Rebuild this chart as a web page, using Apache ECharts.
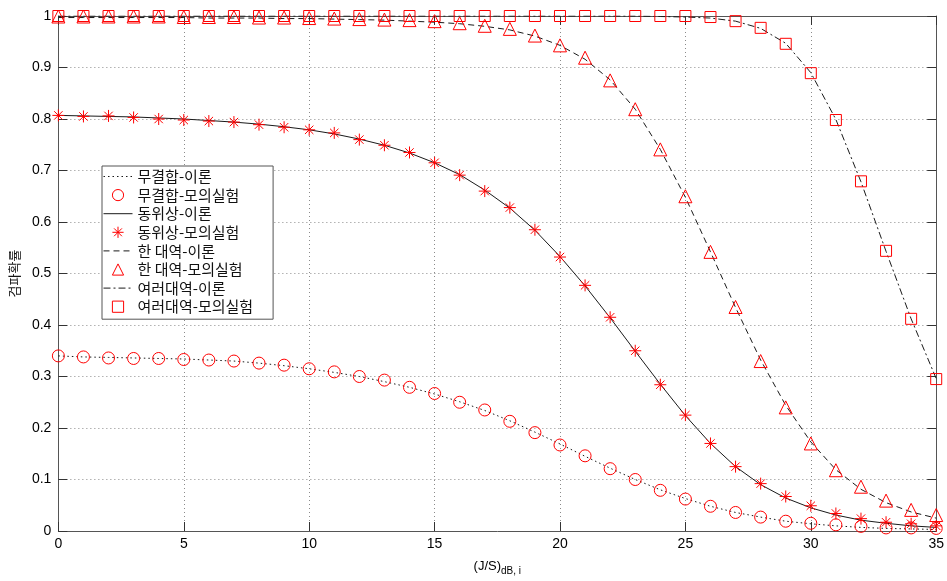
<!DOCTYPE html>
<html>
<head>
<meta charset="utf-8">
<script src="https://cdn.jsdelivr.net/npm/echarts@6/dist/echarts.min.js"></script>
<style>
  html, body { margin: 0; padding: 0; background: #fff; }
  #main { width: 947px; height: 581px; }
</style>
</head>
<body>
<div id="main"></div>
<script>
// x 축 (J/S) dB 값
var jsDb = [0, 1, 2, 3, 4, 5, 6, 7, 8, 9, 10, 11, 12, 13, 14, 15, 16, 17,
    18, 19, 20, 21, 22, 23, 24, 25, 26, 27, 28, 29, 30, 31, 32, 33, 34, 35];

// 무결합
var noCombTheory = [0.340, 0.338, 0.337, 0.336, 0.335, 0.334, 0.332, 0.330, 0.326, 0.321, 0.315, 0.308,
    0.300, 0.290, 0.279, 0.266, 0.251, 0.234, 0.214, 0.192, 0.169, 0.145, 0.122, 0.100,
    0.080, 0.063, 0.048, 0.036, 0.027, 0.019, 0.014, 0.010, 0.007, 0.005, 0.004, 0.003];
var noCombSim = [0.340, 0.338, 0.336, 0.335, 0.335, 0.333, 0.332, 0.330, 0.326, 0.322, 0.315, 0.309,
    0.300, 0.293, 0.279, 0.267, 0.250, 0.235, 0.213, 0.191, 0.167, 0.146, 0.121, 0.100,
    0.079, 0.062, 0.048, 0.036, 0.027, 0.019, 0.015, 0.012, 0.009, 0.006, 0.006, 0.005];

// 동위상
var inPhaseTheory = [0.807, 0.806, 0.805, 0.804, 0.802, 0.800, 0.797, 0.794, 0.790, 0.785, 0.779, 0.771,
    0.761, 0.749, 0.734, 0.715, 0.692, 0.662, 0.627, 0.584, 0.533, 0.476, 0.414, 0.349,
    0.285, 0.224, 0.170, 0.125, 0.090, 0.064, 0.045, 0.031, 0.021, 0.015, 0.010, 0.007];
var inPhaseSim = [0.807, 0.805, 0.806, 0.803, 0.800, 0.798, 0.796, 0.794, 0.789, 0.784, 0.779, 0.773,
    0.760, 0.749, 0.735, 0.715, 0.691, 0.660, 0.628, 0.585, 0.532, 0.477, 0.415, 0.350,
    0.284, 0.225, 0.170, 0.125, 0.092, 0.067, 0.049, 0.034, 0.024, 0.017, 0.014, 0.010];

// 한 대역
var oneBandTheory = [0.997, 0.997, 0.997, 0.997, 0.997, 0.997, 0.996, 0.996, 0.996, 0.995, 0.995, 0.994,
    0.993, 0.992, 0.990, 0.988, 0.985, 0.980, 0.973, 0.961, 0.943, 0.916, 0.876, 0.819,
    0.741, 0.648, 0.542, 0.434, 0.332, 0.244, 0.173, 0.119, 0.081, 0.055, 0.037, 0.025];
var oneBandSim = [0.999, 0.999, 0.999, 0.999, 0.999, 0.998, 0.998, 0.998, 0.997, 0.997, 0.996, 0.995,
    0.994, 0.993, 0.992, 0.990, 0.986, 0.981, 0.975, 0.962, 0.943, 0.919, 0.875, 0.819,
    0.741, 0.650, 0.542, 0.435, 0.330, 0.240, 0.170, 0.118, 0.086, 0.059, 0.041, 0.031];

// 여러대역
var multiBandTheory = [1.000, 1.000, 1.000, 1.000, 1.000, 1.000, 1.000, 1.000, 1.000, 1.000, 1.000, 1.000,
    1.000, 1.000, 1.000, 1.000, 1.000, 1.000, 1.000, 1.000, 1.000, 1.000, 1.000, 1.000,
    0.999, 0.998, 0.996, 0.990, 0.976, 0.947, 0.890, 0.799, 0.678, 0.543, 0.412, 0.296];
var multiBandSim = [1.000, 1.000, 1.000, 1.000, 1.000, 1.000, 1.000, 1.000, 1.000, 1.000, 1.000, 1.000,
    1.000, 1.000, 1.000, 1.000, 1.000, 1.000, 1.000, 1.000, 1.000, 1.000, 1.000, 1.000,
    1.000, 1.000, 0.998, 0.990, 0.977, 0.946, 0.889, 0.798, 0.679, 0.544, 0.412, 0.295];

function pairs(ys) {
    return jsDb.map(function (x, i) { return [x, ys[i]]; });
}

var starPath = 'path://M0,-10L0,10M-10,0L10,0M-7,-7L7,7M-7,7L7,-7';
var red = '#ff0000';
var lineColor = '#1a1a1a';

function theory(name, ys, type) {
    return {
        name: name, type: 'line', data: pairs(ys), symbol: 'none',
        lineStyle: { color: lineColor, width: 1, type: type },
        // 범례에 점이 안 나오도록
        itemStyle: { color: lineColor, opacity: 0 },
        silent: true, animation: false, z: 2
    };
}

function sim(name, ys, symbol, size) {
    return {
        name: name, type: 'line', data: pairs(ys), symbol: symbol, symbolSize: size,
        showAllSymbol: true,
        lineStyle: { width: 0, opacity: 0 },
        itemStyle: { color: 'rgba(255,0,0,0)', borderColor: red, borderWidth: 1 },
        silent: true, animation: false, z: 3
    };
}

var myChart = echarts.init(document.getElementById('main'));

var tickFont = { fontFamily: 'Liberation Sans', fontSize: 14, color: '#000' };

var option = {
    backgroundColor: '#fff',
    animation: false,
    grid: { left: 50, right: 8, top: 16, bottom: 41 },
    legend: {
        orient: 'vertical',
        left: 102, top: 166,
        padding: [3, 20, 5, 1],
        itemWidth: 29, itemHeight: 14, itemGap: 3.6,
        backgroundColor: '#fff',
        borderColor: '#555', borderWidth: 1,
        itemStyle: { borderWidth: 1 },
        lineStyle: { width: 1 },
        textStyle: { fontFamily: 'Noto Sans CJK KR', fontSize: 15, color: '#111', lineHeight: 14 },
        selectedMode: false,
        data: ['무결합-이론', '무결합-모의실험', '동위상-이론', '동위상-모의실험',
            '한 대역-이론', '한 대역-모의실험', '여러대역-이론', '여러대역-모의실험']
    },
    xAxis: [{
        type: 'value', min: 0, max: 35, interval: 5,
        name: '{m|(J/S)}{s|dB, i}',
        nameLocation: 'middle', nameGap: 26,
        nameTextStyle: {
            rich: {
                m: { fontFamily: 'Liberation Sans', fontSize: 13, color: '#000' },
                s: { fontFamily: 'Liberation Sans', fontSize: 10, color: '#000', padding: [9, 0, 0, 0] }
            }
        },
        axisLine: { show: true, lineStyle: { color: '#555', width: 1 } },
        axisTick: { show: true, inside: true, length: 9, lineStyle: { color: '#333' } },
        axisLabel: Object.assign({ margin: 6 }, tickFont),
        splitLine: { show: true, lineStyle: { color: '#8a8a8a', type: [1, 3] } }
    }, {
        type: 'value', min: 0, max: 35, interval: 5, position: 'top',
        axisLine: { show: true, onZero: false, lineStyle: { color: '#555', width: 1 } },
        axisTick: { show: true, inside: true, length: 9, lineStyle: { color: '#333' } },
        axisLabel: { show: false },
        splitLine: { show: false }
    }],
    yAxis: [{
        type: 'value', min: 0, max: 1, interval: 0.1,
        name: '검파확률',
        nameLocation: 'middle', nameRotate: 90, nameGap: 31,
        nameTextStyle: { fontFamily: 'Noto Sans CJK KR', fontSize: 13, color: '#111' },
        axisLine: { show: true, lineStyle: { color: '#555', width: 1 } },
        axisTick: { show: true, inside: true, length: 9, lineStyle: { color: '#333' } },
        axisLabel: Object.assign({
            margin: 7,
            formatter: function (v) { return String(+v.toFixed(1)); }
        }, tickFont),
        splitLine: { show: true, lineStyle: { color: '#8a8a8a', type: [1, 3] } }
    }, {
        type: 'value', min: 0, max: 1, interval: 0.1, position: 'right',
        axisLine: { show: true, onZero: false, lineStyle: { color: '#555', width: 1 } },
        axisTick: { show: true, inside: true, length: 9, lineStyle: { color: '#333' } },
        axisLabel: { show: false },
        splitLine: { show: false }
    }],
    series: [
        theory('무결합-이론', noCombTheory, [1.5, 3]),
        sim('무결합-모의실험', noCombSim, 'circle', 12),
        theory('동위상-이론', inPhaseTheory, 'solid'),
        sim('동위상-모의실험', inPhaseSim, starPath, 12),
        theory('한 대역-이론', oneBandTheory, [6, 4]),
        sim('한 대역-모의실험', oneBandSim, 'triangle', 13),
        theory('여러대역-이론', multiBandTheory, [7, 3, 2, 3]),
        sim('여러대역-모의실험', multiBandSim, 'rect', 11)
    ]
};

myChart.setOption(option);
</script>
</body>
</html>
